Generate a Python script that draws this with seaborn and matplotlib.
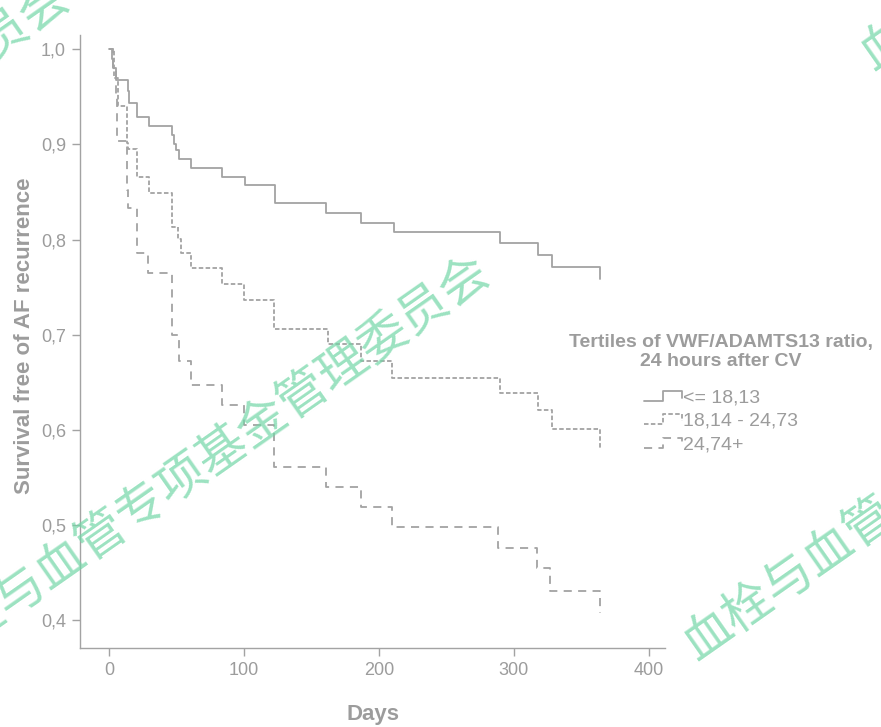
import numpy as np
import pandas as pd
import matplotlib
matplotlib.use("Agg")
import matplotlib.pyplot as plt
import seaborn as sns
from matplotlib.legend_handler import HandlerLine2D
from matplotlib.lines import Line2D

# Kaplan-Meier steps (days, survival after the step)
g1_days = [0, 2, 3, 5, 14, 15, 21, 30, 47, 48, 50, 52, 61, 84, 101, 123, 161, 187, 211, 290, 318, 328, 364]
g1_surv = [1.0, 0.99, 0.98, 0.968, 0.956, 0.944, 0.929, 0.919, 0.91, 0.901, 0.894, 0.885, 0.875,
           0.866, 0.857, 0.838, 0.828, 0.817, 0.808, 0.796, 0.784, 0.771, 0.759]

g2_days = [0, 4, 7, 13, 14, 21, 30, 47, 51, 53, 61, 84, 100, 122, 162, 187, 210, 290, 318, 328, 364]
g2_surv = [1.0, 0.97, 0.94, 0.902, 0.895, 0.866, 0.849, 0.813, 0.801, 0.786, 0.770, 0.753, 0.737,
           0.706, 0.690, 0.673, 0.655, 0.639, 0.621, 0.601, 0.581]

g3_days = [0, 3, 5, 6, 13, 14, 21, 29, 47, 52, 61, 84, 100, 122, 161, 187, 210, 288, 317, 327, 364]
g3_surv = [1.0, 0.98, 0.95, 0.904, 0.852, 0.833, 0.786, 0.765, 0.70, 0.673, 0.647, 0.626, 0.605,
           0.561, 0.540, 0.519, 0.498, 0.476, 0.455, 0.431, 0.408]

groups = ["<= 18,13", "18,14 - 24,73", "24,74+"]
legend_title = "Tertiles of VWF/ADAMTS13 ratio,\n24 hours after CV"
x_ticks = [0, 100, 200, 300, 400]
y_ticks = [0.4, 0.5, 0.6, 0.7, 0.8, 0.9, 1.0]
y_ticklabels = ["0,4", "0,5", "0,6", "0,7", "0,8", "0,9", "1,0"]
watermark = "血栓与血管专项基金管理委员会"

df = pd.concat([
    pd.DataFrame({"Days": g1_days, "Survival": g1_surv, "Tertile": groups[0]}),
    pd.DataFrame({"Days": g2_days, "Survival": g2_surv, "Tertile": groups[1]}),
    pd.DataFrame({"Days": g3_days, "Survival": g3_surv, "Tertile": groups[2]}),
], ignore_index=True)

sns.set_style("white")
plt.rcParams["font.family"] = ["Liberation Sans", "DejaVu Sans"]

grey = "#a3a3a3"
txt = "#9c9c9c"
dash_map = {groups[0]: "", groups[1]: (2.5, 1.3), groups[2]: (4.5, 3.5)}

fig = plt.figure(figsize=(8.81, 7.27), dpi=100)
ax = fig.add_axes([80 / 881, 1 - 648 / 727, 585 / 881, 613 / 727])

sns.lineplot(data=df, x="Days", y="Survival", style="Tertile", dashes=dash_map,
             color=grey, linewidth=1.3, estimator=None, drawstyle="steps-post",
             legend=False, ax=ax)

ax.set_xlim(-21.5, 412)
ax.set_ylim(0.371, 1.015)
ax.set_xticks(x_ticks)
ax.set_xticklabels([str(t) for t in x_ticks])
ax.set_yticks(y_ticks)
ax.set_yticklabels(y_ticklabels)
ax.tick_params(axis="both", direction="out", length=6, width=1, color=grey,
               labelcolor=txt, labelsize=13, pad=4)
ax.tick_params(axis="x", bottom=True)
ax.tick_params(axis="y", left=True)
for side in ["top", "right"]:
    ax.spines[side].set_visible(False)
for side in ["left", "bottom"]:
    ax.spines[side].set_color(grey)
    ax.spines[side].set_linewidth(1)
ax.set_xlabel("Days", fontsize=16, fontweight="bold", color=txt, labelpad=18)
ax.set_ylabel("Survival free of AF recurrence", fontsize=16, fontweight="bold", color=txt, labelpad=4)
ax.yaxis.label.set_y(0.51)


class StepHandler(HandlerLine2D):
    def create_artists(self, legend, orig_handle, xdescent, ydescent, width, height, fontsize, trans):
        xs = np.array([0, 0.5, 0.5, 1.0, 1.0]) * width - xdescent
        ys = np.array([0.1, 0.1, 0.85, 0.85, 0.35]) * height - ydescent
        line = Line2D(xs, ys)
        self.update_prop(line, orig_handle, legend)
        line.set_transform(trans)
        return [line]


handles = [Line2D([], [], color=grey, linewidth=1.3, linestyle=(0, dash_map[g]) if dash_map[g] else "-")
           for g in groups]
fig.text(721 / 881, 1 - 352 / 727, legend_title, ha="center", va="center", fontsize=14,
         fontweight="bold", color=txt, linespacing=1.2)
leg = ax.legend(handles, groups, loc="center", bbox_to_anchor=(721 / 881, 1 - 421 / 727),
                bbox_transform=fig.transFigure, frameon=False, fontsize=14,
                handlelength=2.0, handletextpad=0.05, labelspacing=0.3, borderpad=0,
                handler_map={Line2D: StepHandler()})
plt.setp(leg.get_texts(), color=txt)

# faint diagonal watermark over the chart
wm = dict(color="#72d6a6", alpha=0.7, fontsize=35.5, rotation=35, rotation_mode="anchor",
          family=["Noto Sans CJK SC", "DejaVu Sans"], zorder=10)
fig.text(203 / 881, 1 - 464 / 727, watermark, ha="center", va="center", **wm)
fig.text(688 / 881, 1 - 649 / 727, watermark, ha="left", va="center", **wm)
fig.text(65 / 881, 1 + 9 / 727, watermark, ha="right", va="center", **wm)
fig.text(865 / 881, 1 - 59 / 727, watermark, ha="left", va="center", **wm)

fig.savefig("out.png", dpi=100)
